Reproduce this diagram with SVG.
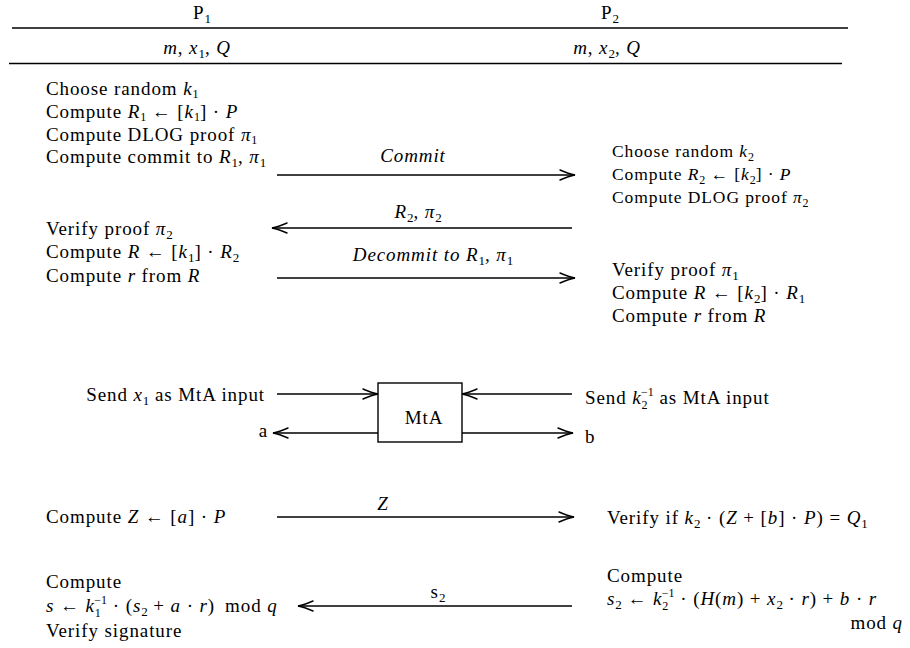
<svg xmlns="http://www.w3.org/2000/svg" width="910" height="648" viewBox="0 0 910 648">
<defs>
<style>
text{font-family:"Liberation Serif","Times New Roman",serif;font-size:19px;letter-spacing:0.9px;fill:#000}
.i{font-style:italic}
.sb{font-size:13px;letter-spacing:0}
.sp{font-size:12px;letter-spacing:0}
.sm{font-size:17.5px}
.sm .sb{font-size:12px}
.c{text-anchor:middle}
.e{text-anchor:end}
.ln{stroke:#000;stroke-width:1.4;fill:none}
.ar{stroke:#000;stroke-width:1.4;fill:none;marker-end:url(#ah)}
</style>
<marker id="ah" viewBox="-16 -7 18 14" refX="0" refY="0" markerWidth="18" markerHeight="14" markerUnits="userSpaceOnUse" orient="auto" overflow="visible">
<path d="M-15,-5 Q-6,-1.2 0,0 Q-6,1.2 -15,5" fill="none" stroke="#000" stroke-width="1.4" stroke-linecap="round"/>
</marker>
</defs>
<rect width="910" height="648" fill="#fff"/>

<g id="header">
<text class="c" x="202" y="19">P<tspan class="sb" dy="4">1</tspan></text>
<text class="c" x="610" y="19">P<tspan class="sb" dy="4">2</tspan></text>
<line class="ln" x1="12" y1="28" x2="848" y2="28" style="stroke-width:1.5"/>
<text class="c" x="197" y="54"><tspan class="i">m</tspan>, <tspan class="i">x</tspan><tspan class="sb" dy="4">1</tspan><tspan dy="-4">, </tspan><tspan class="i">Q</tspan></text>
<text class="c" x="607" y="54"><tspan class="i">m</tspan>, <tspan class="i">x</tspan><tspan class="sb" dy="4">2</tspan><tspan dy="-4">, </tspan><tspan class="i">Q</tspan></text>
<line class="ln" x1="9" y1="63.5" x2="842" y2="63.5" style="stroke-width:1.5"/>
</g>

<g id="p1-commit">
<text x="46" y="95">Choose random <tspan class="i">k</tspan><tspan class="sp" dy="3">1</tspan></text>
<text x="46" y="118">Compute <tspan class="i">R</tspan><tspan class="sp" dy="3">1</tspan><tspan dy="-3"> ← [</tspan><tspan class="i">k</tspan><tspan class="sp" dy="3">1</tspan><tspan dy="-3">] · </tspan><tspan class="i">P</tspan></text>
<text x="46" y="141">Compute DLOG proof <tspan class="i">π</tspan><tspan class="sp" dy="3">1</tspan></text>
<text x="46" y="163">Compute commit to <tspan class="i">R</tspan><tspan class="sb" dy="4">1</tspan><tspan dy="-4">, </tspan><tspan class="i">π</tspan><tspan class="sb" dy="4">1</tspan></text>
</g>

<g id="p2-commit" class="sm">
<text class="sm" x="612" y="157">Choose random <tspan class="i">k</tspan><tspan class="sb" dy="4">2</tspan></text>
<text class="sm" x="612" y="180">Compute <tspan class="i">R</tspan><tspan class="sb" dy="4">2</tspan><tspan dy="-4"> ← [</tspan><tspan class="i">k</tspan><tspan class="sb" dy="4">2</tspan><tspan dy="-4">] · </tspan><tspan class="i">P</tspan></text>
<text class="sm" x="612" y="203">Compute DLOG proof <tspan class="i">π</tspan><tspan class="sb" dy="4">2</tspan></text>
</g>

<g id="p1-verify">
<text x="46" y="235">Verify proof <tspan class="i">π</tspan><tspan class="sb" dy="4">2</tspan></text>
<text x="46" y="258">Compute <tspan class="i">R</tspan> ← [<tspan class="i">k</tspan><tspan class="sb" dy="4">1</tspan><tspan dy="-4">] · </tspan><tspan class="i">R</tspan><tspan class="sb" dy="4">2</tspan></text>
<text x="46" y="282">Compute <tspan class="i">r</tspan> from <tspan class="i">R</tspan></text>
</g>

<g id="p2-verify">
<text x="612" y="276">Verify proof <tspan class="i">π</tspan><tspan class="sb" dy="4">1</tspan></text>
<text x="612" y="299">Compute <tspan class="i">R</tspan> ← [<tspan class="i">k</tspan><tspan class="sb" dy="4">2</tspan><tspan dy="-4">] · </tspan><tspan class="i">R</tspan><tspan class="sb" dy="4">1</tspan></text>
<text x="612" y="322">Compute <tspan class="i">r</tspan> from <tspan class="i">R</tspan></text>
</g>

<g id="p1-mta">
<text class="e" x="265" y="401">Send <tspan class="i">x</tspan><tspan class="sb" dy="4">1</tspan><tspan dy="-4"> as MtA input</tspan></text>
<text class="e" x="268" y="437">a</text>
</g>

<g id="mta">
<rect x="378" y="383" width="84" height="59" fill="#fff" stroke="#000" stroke-width="1.4"/>
<text class="c" x="424" y="424">MtA</text>
</g>

<g id="p2-mta">
<text x="585" y="404">Send <tspan class="i">k</tspan><tspan class="sp" dy="5">2</tspan><tspan class="sp" dx="-6.5" dy="-13">−1</tspan><tspan dy="8"> as MtA input</tspan></text>
<text x="585" y="443">b</text>
</g>

<g id="p1-z">
<text x="46" y="523">Compute <tspan class="i">Z</tspan> ← [<tspan class="i">a</tspan>] · <tspan class="i">P</tspan></text>
</g>

<g id="p2-z">
<text x="607" y="524">Verify if <tspan class="i">k</tspan><tspan class="sb" dy="4">2</tspan><tspan dy="-4"> · (</tspan><tspan class="i">Z</tspan> + [<tspan class="i">b</tspan>] · <tspan class="i">P</tspan>) = <tspan class="i">Q</tspan><tspan class="sb" dy="4">1</tspan></text>
</g>

<g id="p1-final">
<text x="46" y="588">Compute</text>
<text x="46" y="612"><tspan class="i">s</tspan> ← <tspan class="i">k</tspan><tspan class="sp" dy="5">1</tspan><tspan class="sp" dx="-6.5" dy="-13">−1</tspan><tspan dy="8"> · (</tspan><tspan class="i">s</tspan><tspan class="sb" dy="4">2</tspan><tspan dy="-4"> + </tspan><tspan class="i">a</tspan> · <tspan class="i">r</tspan>)<tspan dx="10">mod </tspan><tspan class="i">q</tspan></text>
<text x="46" y="637">Verify signature</text>
</g>

<g id="p2-final">
<text x="607" y="582">Compute</text>
<text x="607" y="605"><tspan class="i">s</tspan><tspan class="sb" dy="4">2</tspan><tspan dy="-4"> ← </tspan><tspan class="i">k</tspan><tspan class="sp" dy="5">2</tspan><tspan class="sp" dx="-6.5" dy="-13">−1</tspan><tspan dy="8"> · (</tspan><tspan class="i">H</tspan>(<tspan class="i">m</tspan>) + <tspan class="i">x</tspan><tspan class="sb" dy="4">2</tspan><tspan dy="-4"> · </tspan><tspan class="i">r</tspan>) + <tspan class="i">b</tspan> · <tspan class="i">r</tspan></text>
<text class="e" x="903" y="629">mod <tspan class="i">q</tspan></text>
</g>

<g id="connectors">
<line class="ar" x1="277" y1="175" x2="575" y2="175"/>
<text class="c i" x="413" y="162">Commit</text>
<line class="ar" x1="572" y1="228" x2="272" y2="228"/>
<text class="c" x="418" y="218"><tspan class="i">R</tspan><tspan class="sb" dy="4">2</tspan><tspan dy="-4">, </tspan><tspan class="i">π</tspan><tspan class="sb" dy="4">2</tspan></text>
<line class="ar" x1="277" y1="278" x2="575" y2="278"/>
<text class="c i" x="433" y="261">Decommit to R<tspan class="sb" dy="4" style="font-style:normal">1</tspan><tspan dy="-4">, π</tspan><tspan class="sb" dy="4" style="font-style:normal">1</tspan></text>
<line class="ar" x1="277" y1="394" x2="378" y2="394"/>
<line class="ar" x1="572" y1="394" x2="462" y2="394"/>
<line class="ar" x1="378" y1="433" x2="273" y2="433"/>
<line class="ar" x1="462" y1="433" x2="573" y2="433"/>
<line class="ar" x1="277" y1="517" x2="574" y2="517"/>
<text class="c i" x="383" y="510">Z</text>
<line class="ar" x1="572" y1="606" x2="298" y2="606"/>
<text class="c" x="438" y="598">s<tspan class="sb" dy="4">2</tspan></text>
</g>
</svg>
